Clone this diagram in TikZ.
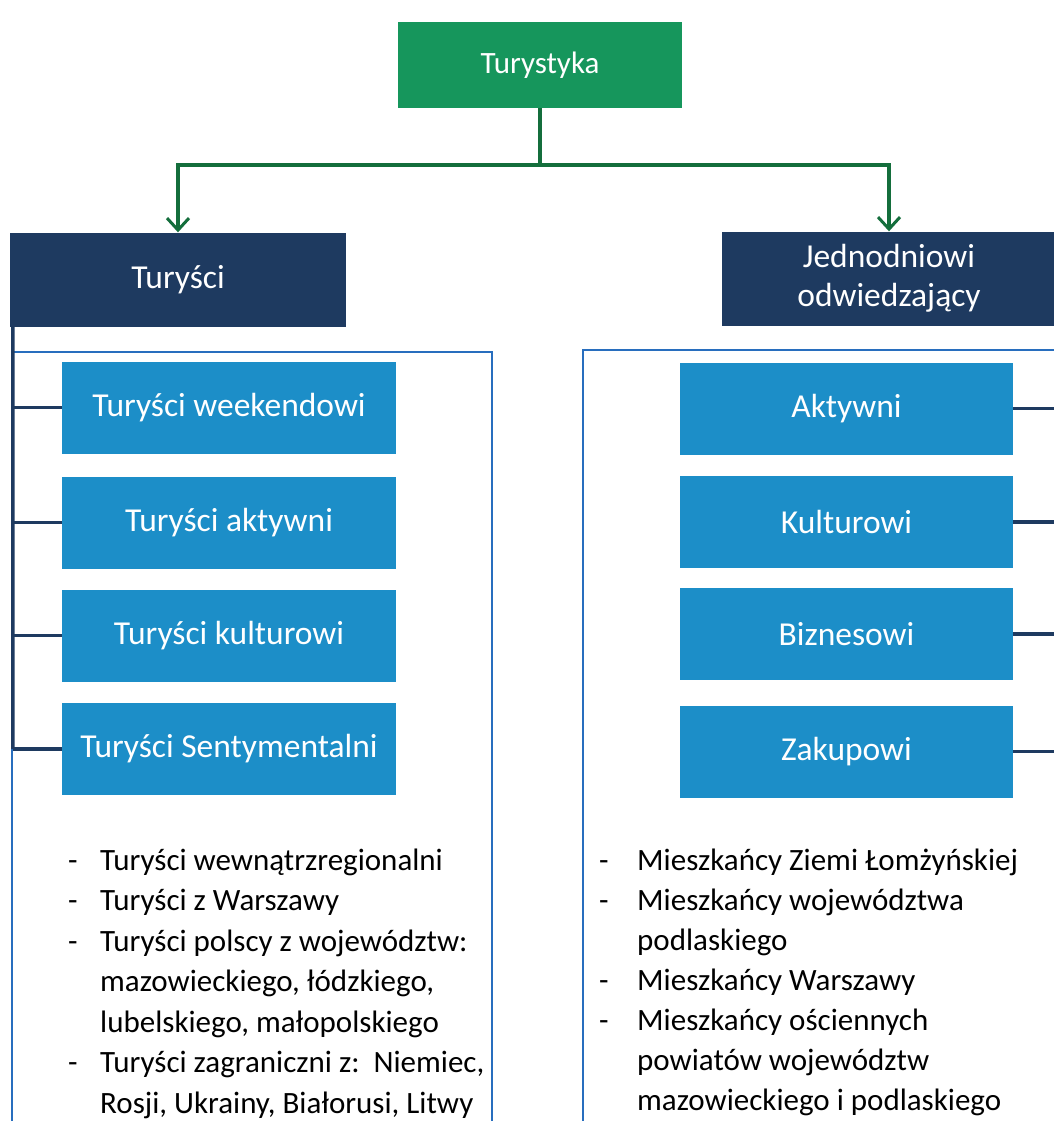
\documentclass[tikz,border=0pt]{standalone}
\usepackage{fontspec}
\setmainfont{Carlito}
\usetikzlibrary{arrows.meta,positioning}
\definecolor{tgreen}{RGB}{22,150,92}
\definecolor{tnavy}{RGB}{30,58,96}
\definecolor{tblue}{RGB}{28,142,200}
\definecolor{tframe}{RGB}{40,110,190}
\definecolor{tdarkgreen}{RGB}{20,110,60}
\tikzset{
  x=1pt, y=-1pt,
  topbox/.style={fill=tgreen, text=white, minimum width=284pt, minimum height=86pt, inner sep=0pt, font=\fontsize{31}{37}\selectfont},
  navybox/.style={fill=tnavy, text=white, minimum height=94pt, inner sep=0pt, align=center, font=\fontsize{33.5}{39}\selectfont},
  bluebox/.style={fill=tblue, text=white, minimum height=92pt, inner sep=0pt, font=\fontsize{33.5}{40}\selectfont},
  garrow/.style={draw=tdarkgreen, line width=3.5pt, -{Straight Barb[length=12pt,width=22pt,line width=3pt]}},
  spine/.style={draw=tnavy, line width=3.5pt},
  frame/.style={draw=tframe, line width=2.2pt},
  item/.style={anchor=base west, inner sep=0pt, text=black, font=\fontsize{31}{37}\selectfont},
}
\begin{document}
\begin{tikzpicture}
\useasboundingbox (0,0) rectangle (1053,1121);
\fill[white] (0,0) rectangle (1053,1121);

% top
\node[topbox] (top) at (540,65) {Turystyka};
\node[navybox, minimum width=336pt] (tur) at (178,279.5) {Turyści};
\node[navybox, minimum width=334pt] (jed) at (889,278.5) {Jednodniowi\\odwiedzający};

\draw[garrow] (top.south) -- ++(0,57) -| (tur.north);
\draw[garrow] (top.south) -- ++(0,57) -| (jed.north);

% frames
\draw[frame] (12,1130) -- (12,352) -- (492,352) -- (492,1130);
\draw[frame] (583,1130) -- (583,350) -- (1060,350);

% left blue boxes
\node[bluebox, minimum width=334pt] (l1) at (229,407.5) {Turyści weekendowi};
\node[bluebox, minimum width=334pt] (l2) at (229,522.5) {Turyści aktywni};
\node[bluebox, minimum width=334pt] (l3) at (229,635.5) {Turyści kulturowi};
\node[bluebox, minimum width=334pt] (l4) at (229,749) {Turyści Sentymentalni};

% right blue boxes
\node[bluebox, minimum width=333pt] (r1) at (846.5,408.5) {Aktywni};
\node[bluebox, minimum width=333pt] (r2) at (846.5,522) {Kulturowi};
\node[bluebox, minimum width=333pt] (r3) at (846.5,634) {Biznesowi};
\node[bluebox, minimum width=333pt] (r4) at (846.5,751.5) {Zakupowi};

% left spine
\draw[spine] (tur.south west) ++(3,0) -- (l4.west -| 13,0);
\foreach \n in {l1,l2,l3,l4} \draw[spine] (\n.west -| 13,0) -- (\n.west);

% right spine
\draw[spine] (jed.south east) -- (r4.east -| 1058,0);
\foreach \n in {r1,r2,r3,r4} \draw[spine] (\n.east) -- (\n.east -| 1058,0);

% left list
\foreach \y in {870,910.5,951,1072.5}
  \node[item] at (68,\y) {-};
\node[item] (a1) at (100,870) {Turyści wewnątrzregionalni};
\node[item] (a2) at (100,910.5) {Turyści z Warszawy};
\node[item] (a3) at (100,951) {Turyści polscy z województw:};
\node[item] (a4) at (100,991.5) {mazowieckiego, łódzkiego,};
\node[item] (a5) at (100,1032) {lubelskiego, małopolskiego};
\node[item] (a6) at (100,1072.5) {Turyści zagraniczni z:\ \ Niemiec,};
\node[item] (a7) at (100,1113) {Rosji, Ukrainy, Białorusi, Litwy};

% right list
\foreach \y in {870,910,990,1030}
  \node[item] at (599,\y) {-};
\node[item] (b1) at (637,870) {Mieszkańcy Ziemi Łomżyńskiej};
\node[item] (b2) at (637,910) {Mieszkańcy województwa};
\node[item] (b3) at (637,950) {podlaskiego};
\node[item] (b4) at (637,990) {Mieszkańcy Warszawy};
\node[item] (b5) at (637,1030) {Mieszkańcy ościennych};
\node[item] (b6) at (637,1070) {powiatów województw};
\node[item] (b7) at (637,1110) {mazowieckiego i podlaskiego};
\end{tikzpicture}
\end{document}
